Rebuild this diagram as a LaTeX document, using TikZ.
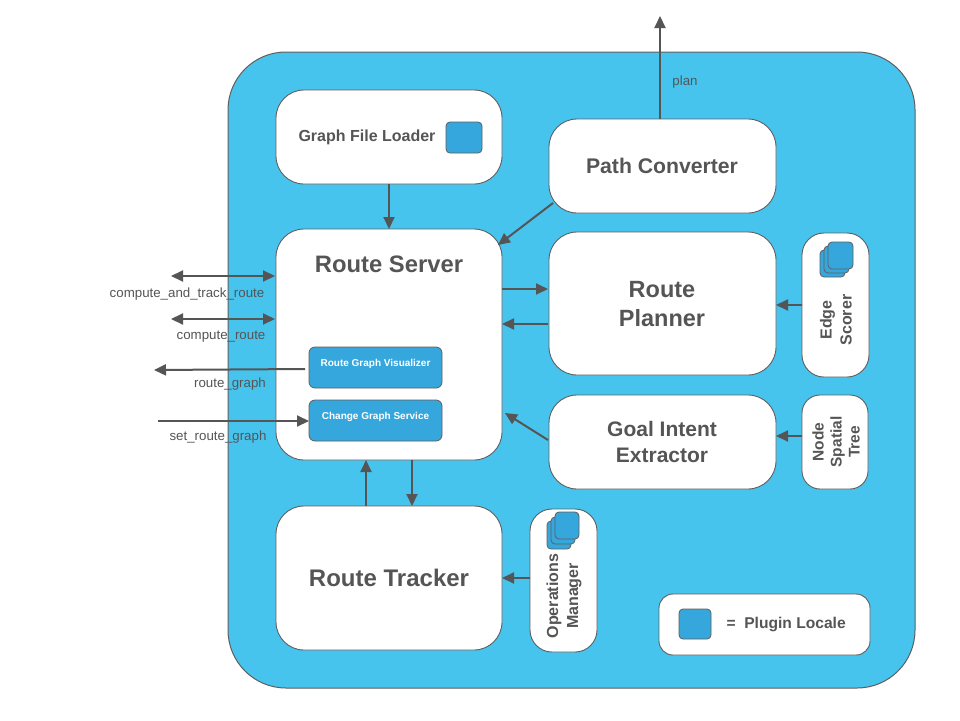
\documentclass[tikz,border=0pt]{standalone}
\usepackage{fontspec}
\setmainfont{Liberation Sans}
\usetikzlibrary{arrows.meta}
\definecolor{bgblue}{HTML}{47C4EE}
\definecolor{icblue}{HTML}{36A7DC}
\definecolor{dgray}{HTML}{555555}
\definecolor{bgray}{HTML}{5E5E5E}
\tikzset{
  box/.style={draw=bgray, line width=0.9pt, fill=white, rounded corners=28pt},
  outer/.style={draw=bgray, line width=1pt, fill=bgblue, rounded corners=58pt},
  icon/.style={draw=bgray, line width=0.8pt, fill=icblue, rounded corners=4pt},
  sub/.style={draw=bgray, line width=0.8pt, fill=icblue, rounded corners=6pt},
  arr/.style={draw=dgray, line width=2pt, -{Triangle[length=12pt,width=11pt]}},
  darr/.style={draw=dgray, line width=2pt, {Triangle[length=12pt,width=11pt]}-{Triangle[length=12pt,width=11pt]}},
  lbl/.style={text=dgray, font=\fontsize{13.3}{15}\selectfont},
  ttl/.style={text=dgray, font=\bfseries, align=center},
}
\begin{document}
\begin{tikzpicture}[x=1pt,y=-1pt]
\useasboundingbox (0,0) rectangle (960,720);
\fill[white] (0,0) rectangle (960,720);
\draw[outer] (228,52) rectangle (915,688);

% boxes
\draw[box] (276,90) rectangle (502,184);
\node[ttl, font=\bfseries\fontsize{16}{19}\selectfont] (gfl) at (367,137) {Graph File Loader};
\draw[icon] (446,122) rectangle (482,153);

\draw[box] (549,119) rectangle (776,213);
\node[ttl, font=\bfseries\fontsize{21.2}{25}\selectfont] (pc) at (662,166) {Path Converter};

\draw[box] (276,229) rectangle (502,460);
\node[ttl, font=\bfseries\fontsize{23.8}{28}\selectfont] (rs) at (389,264) {Route Server};

\draw[box] (549,232) rectangle (776,375);
\node[ttl, font=\bfseries\fontsize{23.5}{29}\selectfont] (rp) at (662,304) {Route\\Planner};

\draw[box, rounded corners=22pt] (802,233) rectangle (869,377);
\node[ttl, rotate=90, font=\bfseries\fontsize{16}{20}\selectfont] (es) at (836,320) {Edge\\Scorer};
\draw[icon] (820,250) rectangle (845,277);
\draw[icon] (824,246) rectangle (849,273);
\draw[icon] (828,242) rectangle (853,269);

\draw[box] (549,395) rectangle (776,489);
\node[ttl, font=\bfseries\fontsize{21}{26}\selectfont] (gie) at (662,442) {Goal Intent\\Extractor};

\draw[box, rounded corners=18pt] (802,395) rectangle (868,489);
\node[ttl, rotate=90, font=\bfseries\fontsize{15.5}{18}\selectfont] (nst) at (836,442) {Node\\Spatial\\Tree};

\draw[box] (276,506) rectangle (502,650);
\node[ttl, font=\bfseries\fontsize{24}{28}\selectfont] (rt) at (389,578) {Route Tracker};

\draw[box, rounded corners=22pt] (530,509) rectangle (597,652);
\node[ttl, rotate=90, font=\bfseries\fontsize{16}{20}\selectfont] (om) at (564,596) {Operations\\Manager};
\draw[icon] (547,521) rectangle (571,549);
\draw[icon] (551,517) rectangle (575,544);
\draw[icon] (555,512) rectangle (579,539);

\draw[box, rounded corners=14pt] (659,594) rectangle (870,655);
\draw[icon] (679,609) rectangle (711,639);
\node[ttl, font=\bfseries\fontsize{15.6}{18}\selectfont, anchor=west] (leg) at (723,624) {=\ \ Plugin Locale};

% sub boxes
\draw[sub] (309,347) rectangle (442,388);
\node[text=white, font=\bfseries\fontsize{10}{12}\selectfont] (rgv) at (375.5,364) {Route Graph Visualizer};
\draw[sub] (309,400) rectangle (442,441);
\node[text=white, font=\bfseries\fontsize{10}{12}\selectfont] (cgs) at (375.5,417) {Change Graph Service};

% connectors
\coordinate (a1) at (389,184);
\coordinate (a2) at (389,229);
\draw[arr] (a1) -- (a2);
\coordinate (b1) at (553,203);
\coordinate (b2) at (498,245);
\draw[arr] (b1) -- (b2);
\coordinate (c1) at (502,289);
\coordinate (c2) at (548,289);
\draw[arr] (c1) -- (c2);
\coordinate (d1) at (548,324);
\coordinate (d2) at (502,324);
\draw[arr] (d1) -- (d2);
\coordinate (e1) at (548,440);
\coordinate (e2) at (505,413);
\draw[arr] (e1) -- (e2);
\coordinate (f1) at (802,305);
\coordinate (f2) at (776,305);
\draw[arr] (f1) -- (f2);
\coordinate (g1) at (802,436);
\coordinate (g2) at (776,436);
\draw[arr] (g1) -- (g2);
\coordinate (h1) at (530,578);
\coordinate (h2) at (502,578);
\draw[arr] (h1) -- (h2);
\coordinate (i1) at (366,506);
\coordinate (i2) at (366,460);
\draw[arr] (i1) -- (i2);
\coordinate (j1) at (412,460);
\coordinate (j2) at (412,506);
\draw[arr] (j1) -- (j2);
\coordinate (k1) at (660,119);
\coordinate (k2) at (660,16);
\draw[arr] (k1) -- (k2);
\node[lbl] (plan) at (685,82) {plan};

\coordinate (l1) at (171,276);
\coordinate (l2) at (275,276);
\draw[darr] (l1) -- (l2);
\node[lbl] (l1t) at (187,294) {compute\_and\_track\_route};
\coordinate (m1) at (171,319);
\coordinate (m2) at (275,319);
\draw[darr] (m1) -- (m2);
\node[lbl] (m1t) at (221,337) {compute\_route};
\coordinate (n1) at (305,369);
\coordinate (n2) at (154,370);
\draw[arr] (n1) -- (n2);
\node[lbl] (n1t) at (230,384) {route\_graph};
\coordinate (o1) at (158,421);
\coordinate (o2) at (309,421);
\draw[arr] (o1) -- (o2);
\node[lbl] (o1t) at (218,437) {set\_route\_graph};
\end{tikzpicture}
\end{document}
